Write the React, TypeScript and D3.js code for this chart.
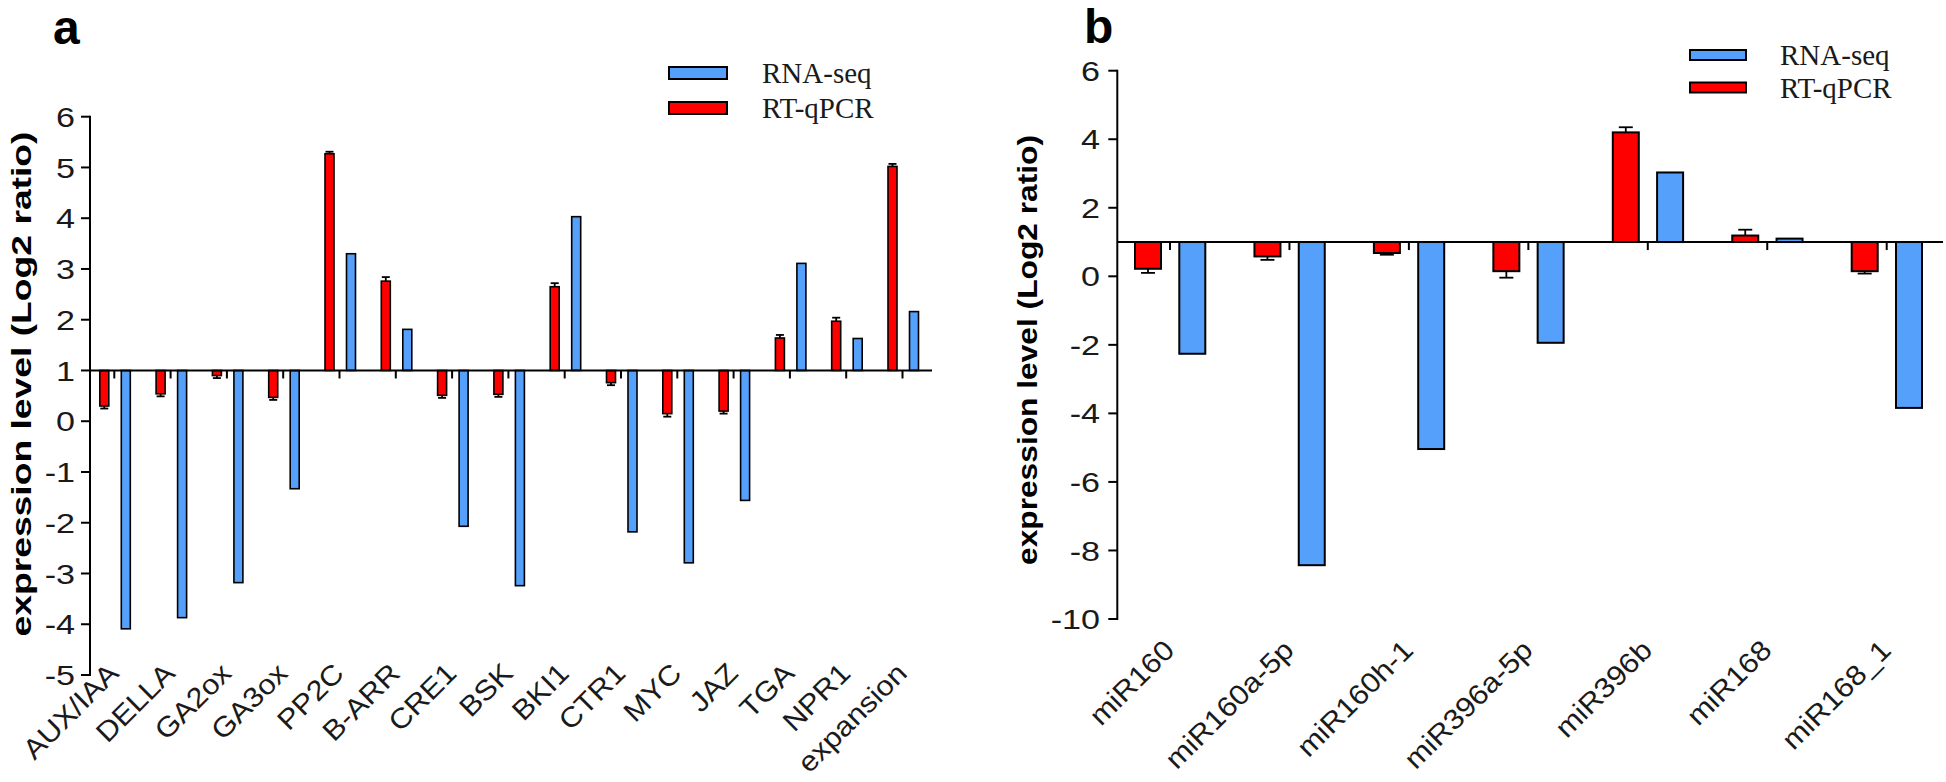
import React from "react";
import * as d3 from "d3";

// Panel a data
const genesA = ["AUX/IAA","DELLA","GA2ox","GA3ox","PP2C","B-ARR","CRE1","BSK","BKI1","CTR1","MYC","JAZ","TGA","NPR1","expansion"];
const rnaSeqA = [-4.09,-3.87,-3.18,-1.33,3.3,1.81,-2.07,-3.24,4.03,-2.18,-2.79,-1.56,3.11,1.63,2.16];
const qpcrA = [0.3,0.54,0.9,0.47,5.27,2.76,0.51,0.53,2.65,0.76,0.15,0.2,1.64,1.97,5.02];
const qpcrErrA = [0.05,0.05,0.05,0.05,0.04,0.08,0.05,0.05,0.07,0.05,0.06,0.05,0.06,0.07,0.05];
const ticksA = [-5,-4,-3,-2,-1,0,1,2,3,4,5,6];

// Panel b data
const mirsB = ["miR160","miR160a-5p","miR160h-1","miR396a-5p","miR396b","miR168","miR168_1"];
const rnaSeqB = [-2.26,-8.43,-5.04,-1.94,3.03,1.1,-3.84];
const qpcrB = [0.22,0.58,0.68,0.15,4.2,1.19,0.15];
const qpcrErrB = [0.12,0.1,0.05,0.19,0.15,0.17,0.07];
const ticksB = [-10,-8,-6,-4,-2,0,2,4,6];

const legendLabels = ["RNA-seq","RT-qPCR"];

const RED = "#ff0000";
const BLUE = "#55a0fa";
const SANS = "'Liberation Sans', Arial, sans-serif";
const SERIF = "'Liberation Serif', 'Times New Roman', serif";

type PanelProps = {
  cats: string[];
  rna: number[];
  qpcr: number[];
  err: number[];
  ticks: number[];
  yDomain: [number, number];
  yRange: [number, number];
  axisX: number;
  axisEnd: number;
  xRange: [number, number];
  redOff: number;
  blueOff: number;
  barW: number;
  capW: number;
  strokeW: number;
  labelDx: number;
  labelY: number;
  tickLabelX: number;
  titleX: number;
  titleY: number;
  titleLen: number;
  legend: { x: number; y: number; w: number; h: number; gap: number; tx: number; ty: number };
  letter: string;
  letterX: number;
  letterY: number;
};

function Panel(p: PanelProps) {
  const y = d3.scaleLinear().domain(p.yDomain).range(p.yRange);
  const x = d3.scalePoint<string>().domain(p.cats).range(p.xRange);
  const base = y(1);
  const bar = (v: number, cx: number, fill: string, key: string) => {
    const y0 = Math.min(y(v), base);
    const h = Math.abs(y(v) - base);
    return (
      <rect key={key} x={cx - p.barW / 2} y={y0} width={p.barW} height={h}
        fill={fill} stroke="#000" strokeWidth={p.strokeW} />
    );
  };
  return (
    <g>
      <text x={p.letterX} y={p.letterY} fontFamily={SANS} fontWeight="bold" fontSize={48} fill="#000">{p.letter}</text>
      {/* y axis */}
      <line x1={p.axisX} x2={p.axisX} y1={y(p.yDomain[1]) - 1} y2={y(p.yDomain[0]) + 1} stroke="#000" strokeWidth={2} />
      {p.ticks.map((t) => (
        <g key={"t" + t}>
          <line x1={p.axisX - 9} x2={p.axisX} y1={y(t)} y2={y(t)} stroke="#000" strokeWidth={2} />
          <text transform={`translate(${p.tickLabelX},${y(t)}) scale(1.22,1)`} dy="0.36em" textAnchor="end"
            fontFamily={SANS} fontSize={28} fill="#1a1a1a">{t}</text>
        </g>
      ))}
      <text transform={`translate(${p.titleX},${p.titleY}) rotate(-90)`} textAnchor="middle"
        fontFamily={SANS} fontWeight="bold" fontSize={28} fill="#000"
        textLength={p.titleLen} lengthAdjust="spacingAndGlyphs">expression level (Log2 ratio)</text>
      {/* bars */}
      {p.cats.map((c, i) => {
        const cx = x(c) as number;
        const rv = p.qpcr[i];
        const up = rv >= 1;
        const ey = y(up ? rv + p.err[i] : rv - p.err[i]);
        return (
          <g key={c}>
            <line x1={cx + p.redOff} x2={cx + p.redOff} y1={y(rv)} y2={ey} stroke="#000" strokeWidth={1.8} />
            <line x1={cx + p.redOff - p.capW / 2} x2={cx + p.redOff + p.capW / 2} y1={ey} y2={ey} stroke="#000" strokeWidth={1.8} />
            {bar(rv, cx + p.redOff, RED, c + "r")}
            {bar(p.rna[i], cx + p.blueOff, BLUE, c + "b")}
          </g>
        );
      })}
      {/* baseline axis at 1 */}
      <line x1={p.axisX} x2={p.axisEnd} y1={base} y2={base} stroke="#000" strokeWidth={2} />
      {p.cats.map((c) => {
        const cx = x(c) as number;
        return <line key={"xt" + c} x1={cx} x2={cx} y1={base} y2={base + 8} stroke="#000" strokeWidth={2} />;
      })}
      {p.cats.map((c) => {
        const cx = x(c) as number;
        return (
          <text key={"xl" + c} transform={`translate(${cx + p.labelDx},${p.labelY}) rotate(-45) scale(1.1,1)`} textAnchor="end"
            fontFamily={SANS} fontSize={28} fill="#1a1a1a">{c}</text>
        );
      })}
      {/* legend */}
      {legendLabels.map((l, i) => (
        <g key={l}>
          <rect x={p.legend.x} y={p.legend.y + i * p.legend.gap} width={p.legend.w} height={p.legend.h}
            fill={i === 0 ? BLUE : RED} stroke="#000" strokeWidth={2} />
          <text x={p.legend.tx} y={p.legend.ty + i * p.legend.gap} fontFamily={SERIF} fontSize={29} fill="#1a1a1a">{l}</text>
        </g>
      ))}
    </g>
  );
}

export default function App() {
  return (
    <svg width={1946} height={782} style={{ position: "absolute", left: 0, top: 0, background: "#fff" }}>
      <rect x={0} y={0} width={1946} height={782} fill="#fff" />
      <Panel
        cats={genesA} rna={rnaSeqA} qpcr={qpcrA} err={qpcrErrA} ticks={ticksA}
        yDomain={[-5, 6]} yRange={[675, 116.7]} axisX={90} axisEnd={932}
        xRange={[114.3, 902.5]} redOff={-10} blueOff={11.5} barW={9} capW={8} strokeW={1.6}
        labelDx={6} labelY={675} tickLabelX={75}
        titleX={31} titleY={384} titleLen={505}
        legend={{ x: 669, y: 67, w: 58, h: 12, gap: 35, tx: 762, ty: 83 }}
        letter="a" letterX={53} letterY={44}
      />
      <Panel
        cats={mirsB} rna={rnaSeqB} qpcr={qpcrB} err={qpcrErrB} ticks={ticksB}
        yDomain={[-10, 6]} yRange={[619, 70.7]} axisX={1117.3} axisEnd={1943}
        xRange={[1170, 1886.7]} redOff={-22} blueOff={22.3} barW={26} capW={14} strokeW={2}
        labelDx={6} labelY={652} tickLabelX={1100}
        titleX={1037} titleY={350} titleLen={430}
        legend={{ x: 1690, y: 50, w: 56, h: 10, gap: 32.5, tx: 1780, ty: 65 }}
        letter="b" letterX={1084} letterY={43}
      />
    </svg>
  );
}
